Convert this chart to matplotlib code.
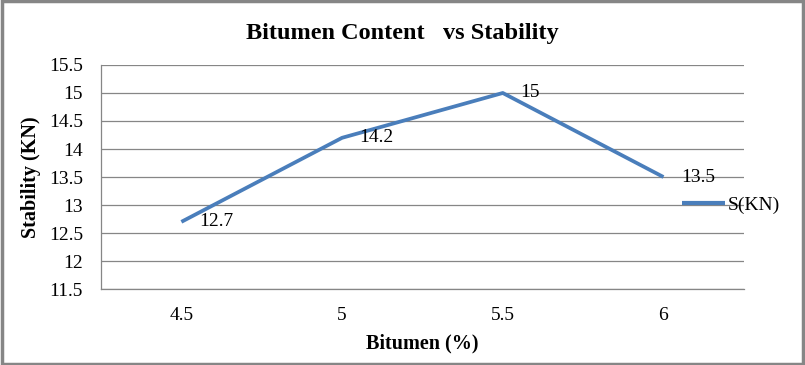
import matplotlib.pyplot as plt
from matplotlib.patches import Rectangle

plt.rcParams['font.family'] = ['Liberation Serif', 'DejaVu Serif']

# data
bitumen = ['4.5', '5', '5.5', '6']
stability = [12.7, 14.2, 15.0, 13.5]
y_ticks = [11.5, 12, 12.5, 13, 13.5, 14, 14.5, 15, 15.5]

line_color = '#4A7EBB'

fig = plt.figure(figsize=(8.05, 3.65), dpi=100)
ax = fig.add_axes([0.1255, 0.208, 0.7985, 0.614])

x = range(len(bitumen))
ax.plot(x, stability, color=line_color, linewidth=2.7, solid_capstyle='butt',
        label='S(KN)')

# data labels to the right of each point
for xi, yi in zip(x, stability):
    ax.annotate(f'{yi:g}', (xi, yi), xytext=(12.5, 0), textcoords='offset points',
                fontsize=14, va='center', ha='left')

ax.set_xlim(-0.5, len(bitumen) - 0.5)
ax.set_ylim(11.5, 15.5)
ax.set_xticks(list(x))
ax.set_xticklabels(bitumen)
ax.set_yticks(y_ticks)
ax.set_yticklabels([f'{v:g}' for v in y_ticks])
ax.tick_params(axis='both', length=0, labelsize=14)
ax.tick_params(axis='y', pad=13)
ax.tick_params(axis='x', pad=13)

ax.grid(axis='y', color='#868686', linewidth=0.9)
ax.set_axisbelow(True)
for side in ['top', 'right']:
    ax.spines[side].set_visible(False)
for side in ['left', 'bottom']:
    ax.spines[side].set_color('#868686')
    ax.spines[side].set_linewidth(0.9)

fig.text(0.5, 1 - 34 / 365, 'Bitumen Content   vs Stability', fontsize=17.5,
         fontweight='bold', ha='center', va='center')
ax.set_xlabel('Bitumen (%)', fontsize=14.5, fontweight='bold', labelpad=7)
ax.set_ylabel('Stability (KN)', fontsize=14.5, fontweight='bold', labelpad=6)

leg = fig.legend(*ax.get_legend_handles_labels(), loc='center left',
                 bbox_to_anchor=(682 / 805, 1 - 205 / 365), frameon=False,
                 fontsize=14, handlelength=2.2, handletextpad=0.15,
                 borderpad=0, borderaxespad=0)
leg.get_lines()[0].set_linewidth(3)

fig.patches.append(Rectangle((0.002, 0.003), 0.996, 0.994, transform=fig.transFigure,
                             fill=False, edgecolor='#868686', linewidth=2.5))

fig.savefig('out.png', dpi=100)
